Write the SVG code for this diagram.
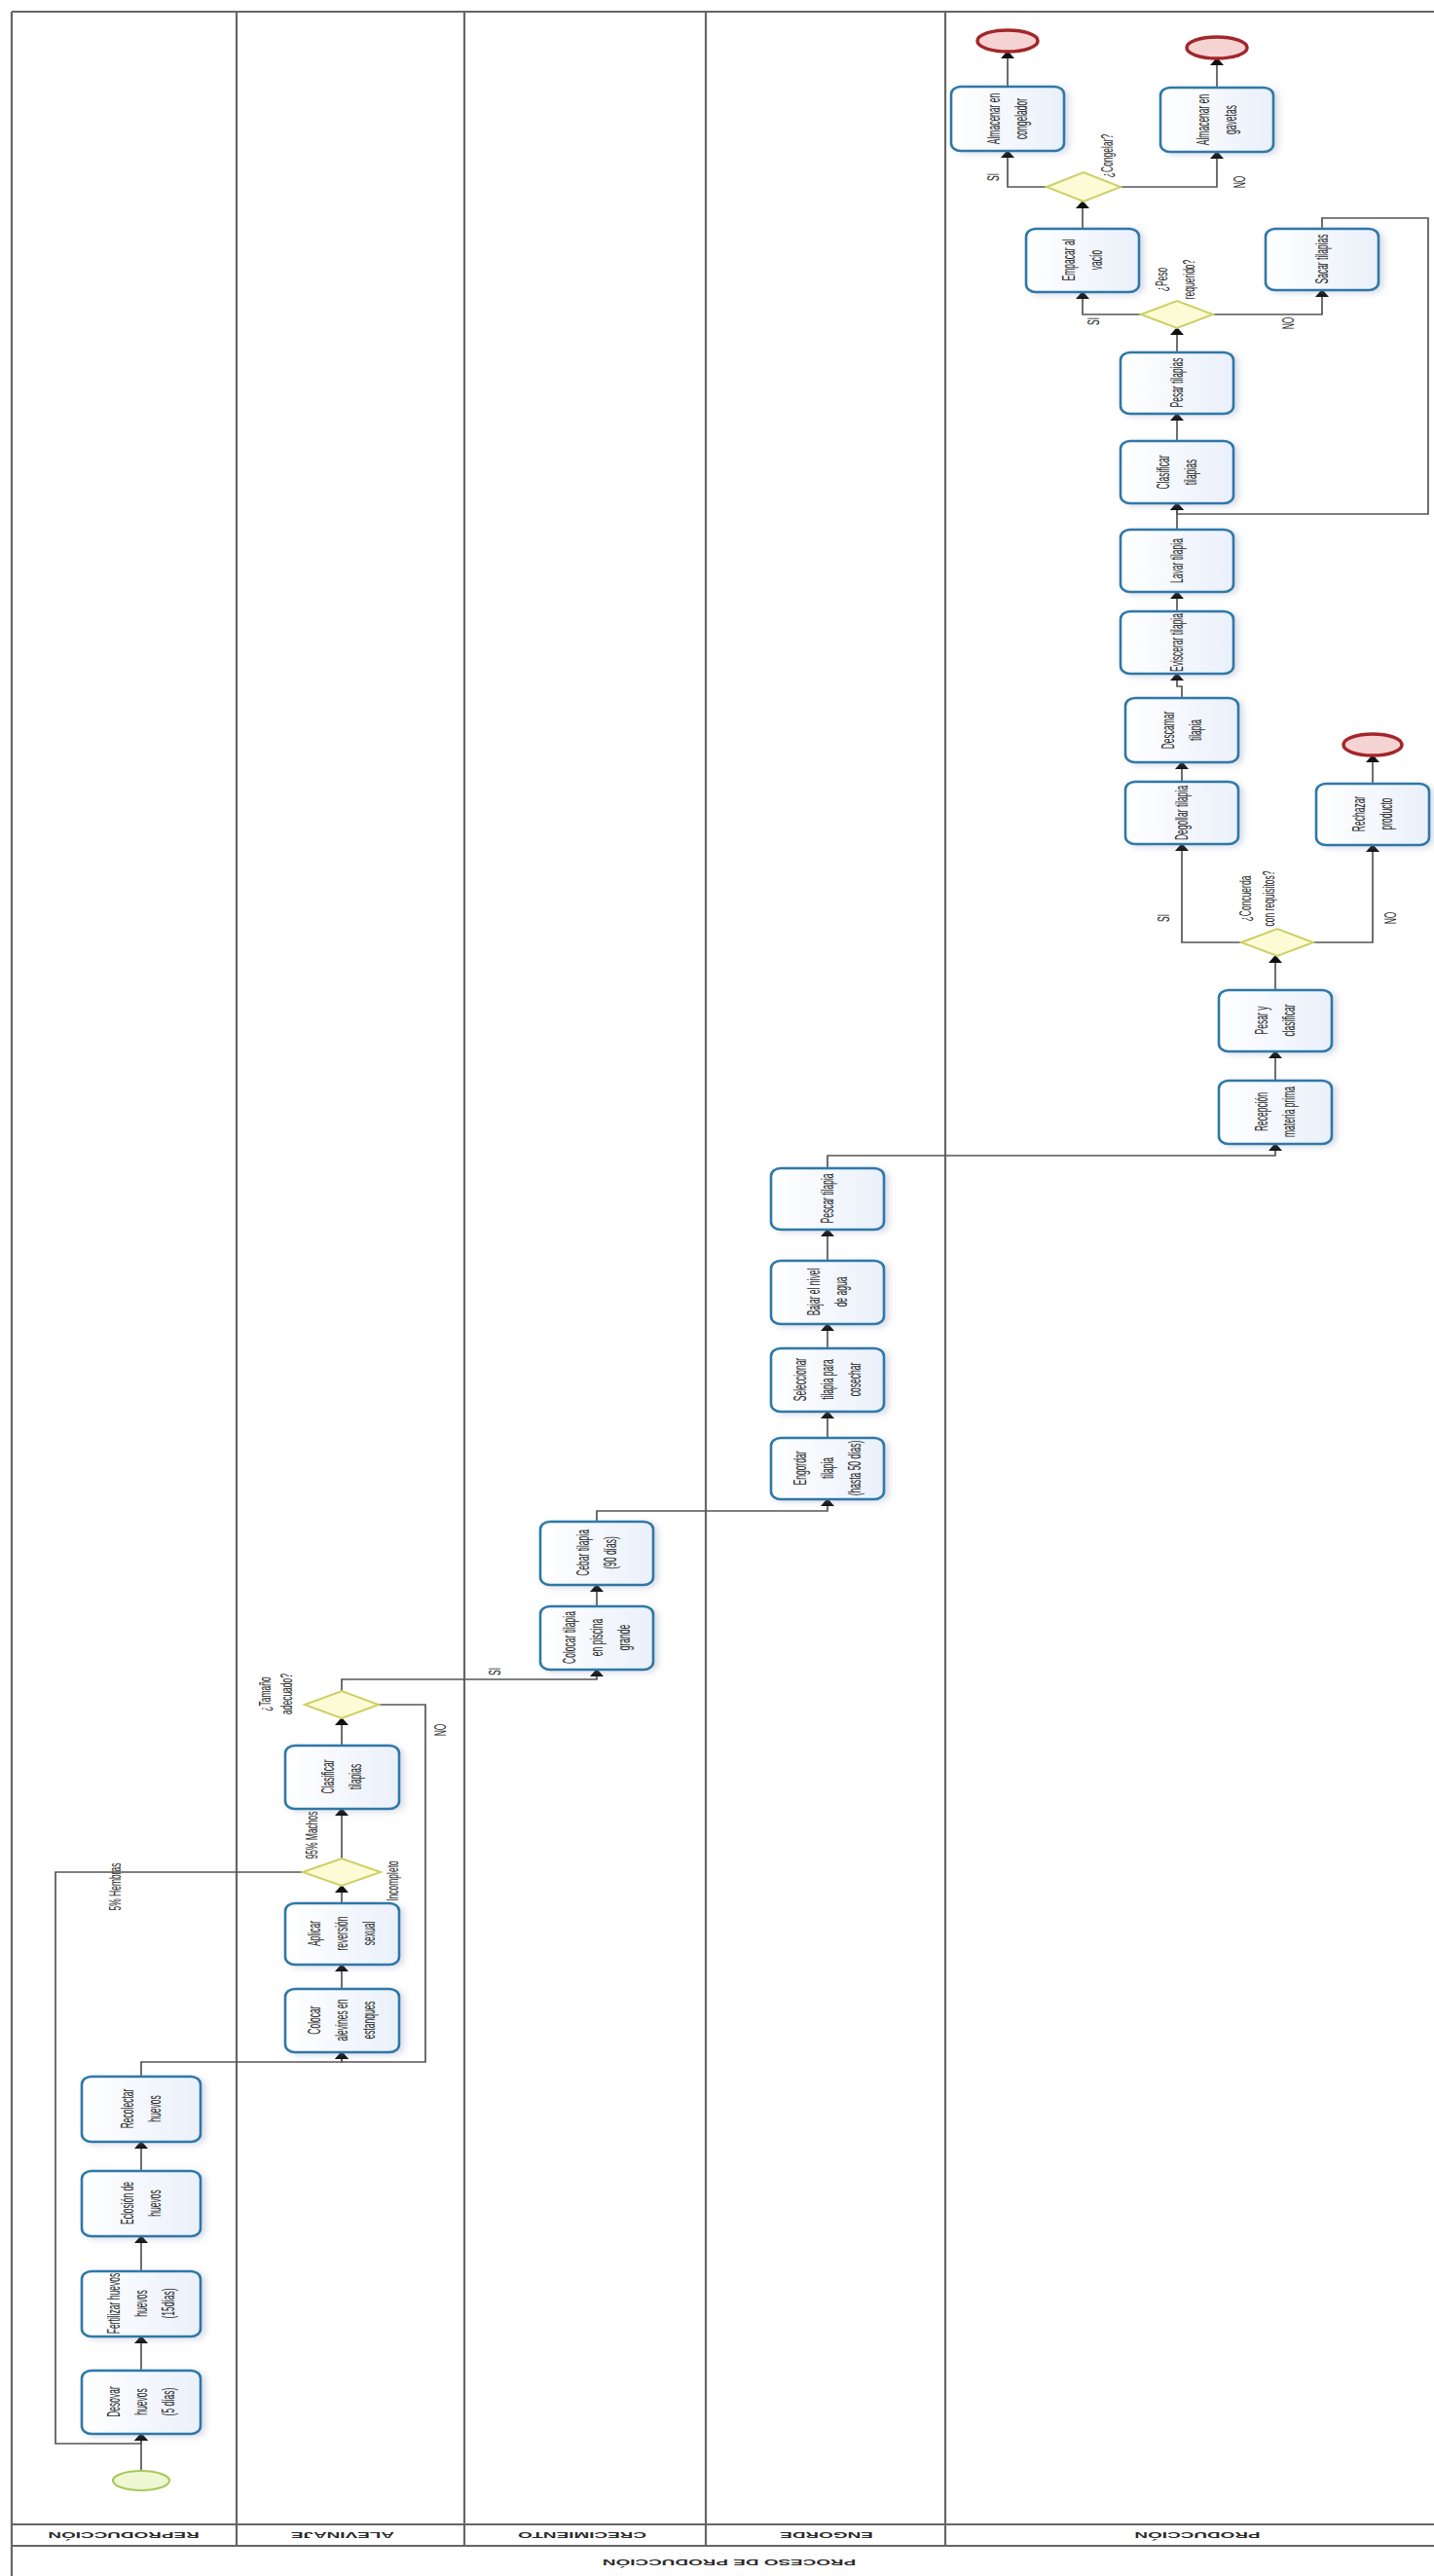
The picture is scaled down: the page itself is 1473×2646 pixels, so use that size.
<svg xmlns="http://www.w3.org/2000/svg" width="1473" height="2646" viewBox="0 0 1473 2646">
<defs>
<linearGradient id="tg" x1="0" y1="0" x2="1" y2="0">
<stop offset="0" stop-color="#ffffff"/><stop offset="1" stop-color="#eaf0fa"/>
</linearGradient>
<filter id="sh" x="-20%" y="-20%" width="150%" height="150%">
<feDropShadow dx="4" dy="2" stdDeviation="3" flood-color="#8090b0" flood-opacity="0.3"/>
</filter>
<marker id="arr" markerUnits="userSpaceOnUse" markerWidth="8" markerHeight="14" viewBox="0 0 8 14" refX="7" refY="7" orient="auto">
<path d="M0,0 L8,7 L0,14 z" fill="#111"/>
</marker>
<style>
.task rect{fill:url(#tg);stroke:#2f78a8;stroke-width:2.6;filter:url(#sh)}
.gw polygon{fill:#fbfbd6;stroke:#cdd066;stroke-width:2}
.end ellipse{fill:#f6d3d3;stroke:#a3262a;stroke-width:3.5}
.start ellipse{fill:#eef7d2;stroke:#a6c957;stroke-width:2.2}
.conn path{fill:none;stroke:#555;stroke-width:1.7;marker-end:url(#arr)}
.lane line{stroke:#666;stroke-width:2.2}
text{font-family:"Liberation Sans",Arial,sans-serif;fill:#2a2a2a;font-size:10px;text-anchor:middle}
.lbl{font-weight:bold;font-size:9px}
</style>
</defs>
<rect width="1473" height="2646" fill="#ffffff"/>
<g class="lane">
<line x1="12" y1="12" x2="1473" y2="12"/>
<line x1="12" y1="12" x2="12" y2="2646"/>
<line x1="243" y1="12" x2="243" y2="2615"/>
<line x1="477" y1="12" x2="477" y2="2615"/>
<line x1="725" y1="12" x2="725" y2="2615"/>
<line x1="971" y1="12" x2="971" y2="2615"/>
<line x1="12" y1="2593" x2="1473" y2="2593"/>
<line x1="12" y1="2615" x2="1473" y2="2615"/>
</g>
<g id="lane-labels">
<text class="lbl" transform="translate(127,2604) rotate(180) scale(2.1,1)" y="3.2">REPRODUCCIÓN</text>
<text class="lbl" transform="translate(352,2604) rotate(180) scale(2.1,1)" y="3.2">ALEVINAJE</text>
<text class="lbl" transform="translate(598,2604) rotate(180) scale(2.1,1)" y="3.2">CRECIMIENTO</text>
<text class="lbl" transform="translate(849,2604) rotate(180) scale(2.1,1)" y="3.2">ENGORDE</text>
<text class="lbl" transform="translate(1230,2604) rotate(180) scale(2.1,1)" y="3.2">PRODUCCIÓN</text>
<text class="lbl" transform="translate(749,2632) rotate(180) scale(2.1,1)" y="3.2">PROCESO DE PRODUCCIÓN</text>
</g>
<g class="conn" id="connectors">
<path d="M145,2538 V2500"/>
<path d="M145,2435 V2400"/>
<path d="M145,2333 V2297"/>
<path d="M145,2230 V2200"/>
<path d="M145,2133 V2118 H351 V2108"/>
<path d="M351,2043 V2018"/>
<path d="M351,1955 V1937"/>
<path d="M351,1909 V1858"/>
<path d="M311,1923 H57 V2510 H145 V2500"/>
<path d="M351,1793 V1765"/>
<path d="M389,1751 H437 V2118 H351 V2108"/>
<path d="M351,1737 V1725 H613 V1715"/>
<path d="M613,1650 V1628"/>
<path d="M613,1563 V1552 H850 V1540"/>
<path d="M850,1477 V1450"/>
<path d="M850,1385 V1360"/>
<path d="M850,1295 V1263"/>
<path d="M850,1200 V1187 H1310 V1175"/>
<path d="M1310,1110 V1080"/>
<path d="M1310,1017 V982"/>
<path d="M1275,968 H1214 V867"/>
<path d="M1349,968 H1410 V868"/>
<path d="M1410,805 V776"/>
<path d="M1214,803 V783"/>
<path d="M1214,717 V705 H1209 V692"/>
<path d="M1209,628 V608"/>
<path d="M1209,544 V517"/>
<path d="M1209,453 V425"/>
<path d="M1209,362 V337"/>
<path d="M1172,323 H1112 V300"/>
<path d="M1246,323 H1358 V298"/>
<path d="M1358,235 V224 H1467 V528 H1209 V517"/>
<path d="M1112,235 V207"/>
<path d="M1075,192 H1035 V155"/>
<path d="M1151,192 H1250 V156"/>
<path d="M1035,89 V53"/>
<path d="M1250,90 V60"/>
</g>
<g id="edge-labels">
<text transform="translate(118,1938) rotate(-90) scale(0.85,1.7)" y="3.5">5% Hembras</text>
<text transform="translate(320,1885) rotate(-90) scale(0.85,1.7)" y="3.5">95% Machos</text>
<text transform="translate(403,1932) rotate(-90) scale(0.85,1.7)" y="3.5">Incompleto</text>
<text transform="translate(283,1740) rotate(-90) scale(0.85,1.7)"><tspan x="0" y="-3">¿Tamaño</tspan><tspan x="0" y="10">adecuado?</tspan></text>
<text transform="translate(452,1777) rotate(-90) scale(0.85,1.7)" y="3.5">NO</text>
<text transform="translate(508,1717) rotate(-90) scale(0.85,1.7)" y="3.5">SI</text>
<text transform="translate(1290,923) rotate(-90) scale(0.85,1.7)"><tspan x="0" y="-3">¿Concuerda</tspan><tspan x="0" y="11">con requisitos?</tspan></text>
<text transform="translate(1195,943) rotate(-90) scale(0.85,1.7)" y="3.5">SI</text>
<text transform="translate(1428,943) rotate(-90) scale(0.85,1.7)" y="3.5">NO</text>
<text transform="translate(1207,287) rotate(-90) scale(0.85,1.7)"><tspan x="0" y="-5">¿Peso</tspan><tspan x="0" y="12">requerido?</tspan></text>
<text transform="translate(1123,330) rotate(-90) scale(0.85,1.7)" y="3.5">SI</text>
<text transform="translate(1323,332) rotate(-90) scale(0.85,1.7)" y="3.5">NO</text>
<text transform="translate(1137,160) rotate(-90) scale(0.85,1.7)" y="3.5">¿Congelar?</text>
<text transform="translate(1020,182) rotate(-90) scale(0.85,1.7)" y="3.5">SI</text>
<text transform="translate(1273,187) rotate(-90) scale(0.85,1.7)" y="3.5">NO</text>
</g>
<g id="start" class="start"><ellipse cx="145" cy="2548" rx="29" ry="10"/></g>
<g id="end1" class="end"><ellipse cx="1035" cy="42" rx="31" ry="11"/></g>
<g id="end2" class="end"><ellipse cx="1250" cy="49" rx="31" ry="11"/></g>
<g id="end3" class="end"><ellipse cx="1410" cy="765" rx="30" ry="11"/></g>
<g id="gw-sexo" class="gw"><polygon points="311,1923 351,1909 391,1923 351,1937"/></g>
<g id="gw-tamano" class="gw"><polygon points="313,1751 351,1737 389,1751 351,1765"/></g>
<g id="gw-concuerda" class="gw"><polygon points="1275,968 1312,954 1349,968 1312,982"/></g>
<g id="gw-peso" class="gw"><polygon points="1172,323 1209,309 1246,323 1209,337"/></g>
<g id="gw-congelar" class="gw"><polygon points="1075,192 1113,177 1151,192 1113,207"/></g>
<g id="t-desovar" class="task"><rect x="84" y="2435" width="122" height="65" rx="10" ry="8"/>
<text transform="translate(145,2467) rotate(-90) scale(0.85,1.75)"><tspan x="0" y="-12.5">Desovar</tspan><tspan x="0" y="3.5">huevos</tspan><tspan x="0" y="19.5">(5 días)</tspan></text></g>
<g id="t-fertilizar" class="task"><rect x="84" y="2333" width="122" height="67" rx="10" ry="8"/>
<text transform="translate(145,2366) rotate(-90) scale(0.85,1.75)"><tspan x="0" y="-12.5">Fertilizar huevos</tspan><tspan x="0" y="3.5">huevos</tspan><tspan x="0" y="19.5">(15días)</tspan></text></g>
<g id="t-eclosion" class="task"><rect x="84" y="2230" width="122" height="67" rx="10" ry="8"/>
<text transform="translate(145,2263) rotate(-90) scale(0.85,1.75)"><tspan x="0" y="-4.5">Eclosión de</tspan><tspan x="0" y="11.5">huevos</tspan></text></g>
<g id="t-recolectar" class="task"><rect x="84" y="2133" width="122" height="67" rx="10" ry="8"/>
<text transform="translate(145,2166) rotate(-90) scale(0.85,1.75)"><tspan x="0" y="-4.5">Recolectar</tspan><tspan x="0" y="11.5">huevos</tspan></text></g>
<g id="t-colocar-alevines" class="task"><rect x="293" y="2043" width="117" height="65" rx="10" ry="8"/>
<text transform="translate(351,2075) rotate(-90) scale(0.85,1.75)"><tspan x="0" y="-12.5">Colocar</tspan><tspan x="0" y="3.5">alevines en</tspan><tspan x="0" y="19.5">estanques</tspan></text></g>
<g id="t-aplicar" class="task"><rect x="293" y="1955" width="117" height="63" rx="10" ry="8"/>
<text transform="translate(351,1986) rotate(-90) scale(0.85,1.75)"><tspan x="0" y="-12.5">Aplicar</tspan><tspan x="0" y="3.5">reversión</tspan><tspan x="0" y="19.5">sexual</tspan></text></g>
<g id="t-clasificar-alevines" class="task"><rect x="293" y="1793" width="117" height="65" rx="10" ry="8"/>
<text transform="translate(351,1825) rotate(-90) scale(0.85,1.75)"><tspan x="0" y="-4.5">Clasificar</tspan><tspan x="0" y="11.5">tilapias</tspan></text></g>
<g id="t-colocar-tilapia" class="task"><rect x="555" y="1650" width="116" height="65" rx="10" ry="8"/>
<text transform="translate(613,1682) rotate(-90) scale(0.85,1.75)"><tspan x="0" y="-12.5">Colocar tilapia</tspan><tspan x="0" y="3.5">en piscina</tspan><tspan x="0" y="19.5">grande</tspan></text></g>
<g id="t-cebar" class="task"><rect x="555" y="1563" width="116" height="65" rx="10" ry="8"/>
<text transform="translate(613,1595) rotate(-90) scale(0.85,1.75)"><tspan x="0" y="-4.5">Cebar tilapia</tspan><tspan x="0" y="11.5">(90 días)</tspan></text></g>
<g id="t-engordar" class="task"><rect x="792" y="1477" width="116" height="63" rx="10" ry="8"/>
<text transform="translate(850,1508) rotate(-90) scale(0.85,1.75)"><tspan x="0" y="-12.5">Engordar</tspan><tspan x="0" y="3.5">tilapia</tspan><tspan x="0" y="19.5">(hasta 50 días)</tspan></text></g>
<g id="t-seleccionar" class="task"><rect x="792" y="1385" width="116" height="65" rx="10" ry="8"/>
<text transform="translate(850,1417) rotate(-90) scale(0.85,1.75)"><tspan x="0" y="-12.5">Seleccionar</tspan><tspan x="0" y="3.5">tilapia para</tspan><tspan x="0" y="19.5">cosechar</tspan></text></g>
<g id="t-bajar" class="task"><rect x="792" y="1295" width="116" height="65" rx="10" ry="8"/>
<text transform="translate(850,1327) rotate(-90) scale(0.85,1.75)"><tspan x="0" y="-4.5">Bajar el nivel</tspan><tspan x="0" y="11.5">de agua</tspan></text></g>
<g id="t-pescar" class="task"><rect x="792" y="1200" width="116" height="63" rx="10" ry="8"/>
<text transform="translate(850,1231) rotate(-90) scale(0.85,1.75)" y="3.5">Pescar tilapia</text></g>
<g id="t-recepcion" class="task"><rect x="1252" y="1110" width="116" height="65" rx="10" ry="8"/>
<text transform="translate(1310,1142) rotate(-90) scale(0.85,1.75)"><tspan x="0" y="-4.5">Recepción</tspan><tspan x="0" y="11.5">materia prima</tspan></text></g>
<g id="t-pesar-clasificar" class="task"><rect x="1252" y="1017" width="116" height="63" rx="10" ry="8"/>
<text transform="translate(1310,1048) rotate(-90) scale(0.85,1.75)"><tspan x="0" y="-4.5">Pesar y</tspan><tspan x="0" y="11.5">clasificar</tspan></text></g>
<g id="t-degollar" class="task"><rect x="1156" y="803" width="116" height="64" rx="10" ry="8"/>
<text transform="translate(1214,835) rotate(-90) scale(0.85,1.75)" y="3.5">Degollar tilapia</text></g>
<g id="t-rechazar" class="task"><rect x="1352" y="805" width="116" height="63" rx="10" ry="8"/>
<text transform="translate(1410,836) rotate(-90) scale(0.85,1.75)"><tspan x="0" y="-4.5">Rechazar</tspan><tspan x="0" y="11.5">producto</tspan></text></g>
<g id="t-descamar" class="task"><rect x="1156" y="717" width="116" height="66" rx="10" ry="8"/>
<text transform="translate(1214,750) rotate(-90) scale(0.85,1.75)"><tspan x="0" y="-4.5">Descamar</tspan><tspan x="0" y="11.5">tilapia</tspan></text></g>
<g id="t-eviscerar" class="task"><rect x="1151" y="628" width="116" height="64" rx="10" ry="8"/>
<text transform="translate(1209,660) rotate(-90) scale(0.85,1.75)" y="3.5">Eviscerar tilapia</text></g>
<g id="t-lavar" class="task"><rect x="1151" y="544" width="116" height="64" rx="10" ry="8"/>
<text transform="translate(1209,576) rotate(-90) scale(0.85,1.75)" y="3.5">Lavar tilapia</text></g>
<g id="t-clasificar-tilapias" class="task"><rect x="1151" y="453" width="116" height="64" rx="10" ry="8"/>
<text transform="translate(1209,485) rotate(-90) scale(0.85,1.75)"><tspan x="0" y="-4.5">Clasificar</tspan><tspan x="0" y="11.5">tilapias</tspan></text></g>
<g id="t-pesar-tilapias" class="task"><rect x="1151" y="362" width="116" height="63" rx="10" ry="8"/>
<text transform="translate(1209,393) rotate(-90) scale(0.85,1.75)" y="3.5">Pesar tilapias</text></g>
<g id="t-empacar" class="task"><rect x="1054" y="235" width="116" height="65" rx="10" ry="8"/>
<text transform="translate(1112,267) rotate(-90) scale(0.85,1.75)"><tspan x="0" y="-4.5">Empacar al</tspan><tspan x="0" y="11.5">vacío</tspan></text></g>
<g id="t-sacar" class="task"><rect x="1300" y="235" width="116" height="63" rx="10" ry="8"/>
<text transform="translate(1358,266) rotate(-90) scale(0.85,1.75)" y="3.5">Sacar tilapias</text></g>
<g id="t-congelador" class="task"><rect x="977" y="89" width="116" height="66" rx="10" ry="8"/>
<text transform="translate(1035,122) rotate(-90) scale(0.85,1.75)"><tspan x="0" y="-4.5">Almacenar en</tspan><tspan x="0" y="11.5">congelador</tspan></text></g>
<g id="t-gavetas" class="task"><rect x="1192" y="90" width="116" height="66" rx="10" ry="8"/>
<text transform="translate(1250,123) rotate(-90) scale(0.85,1.75)"><tspan x="0" y="-4.5">Almacenar en</tspan><tspan x="0" y="11.5">gavetas</tspan></text></g>
</svg>
